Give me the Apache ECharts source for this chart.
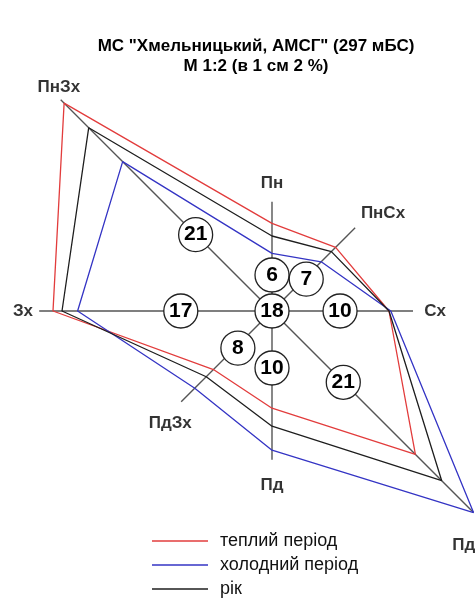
<!DOCTYPE html>
<html>
<head>
<meta charset="utf-8">
<script src="https://cdn.jsdelivr.net/npm/echarts@6/dist/echarts.min.js"></script>
<style>
html,body{margin:0;padding:0;background:#fff;}
#chart{width:475px;height:609px;}
</style>
</head>
<body>
<div id="chart"></div>
<script>
// ---- data ----
const directions = ['Пн', 'ПнСх', 'Сх', 'ПдСх', 'Пд', 'ПдЗх', 'Зх', 'ПнЗх'];
const directionAngles = [0, 45, 90, 135, 180, 225, 270, 315];
const warmPeriod = [7.3, 7.5, 9.75, 16.9, 8.1, 6.9, 18.25, 24.5];
const coldPeriod = [4.8, 5.8, 9.9, 23.75, 11.6, 9.1, 16.2, 17.6];
const yearValues = [6.25, 7.0, 9.75, 20.0, 9.6, 7.75, 17.5, 21.6];
const yearFrequency = [6, 7, 10, 21, 10, 8, 17, 21];
const calmFrequency = 18;
const seriesNames = ['теплий період', 'холодний період', 'рік'];
const titleLines = ['МС "Хмельницький, АМСГ" (297 мБС)', 'М 1:2 (в 1 см 2 %)'];

// ---- layout (in radius units / compass degrees) ----
const axisLength = [9.1, 9.8, 11.75, 23.75, 12.4, 10.7, 19.4, 24.9];
const labelPlace = [[10.67, 0], [12.33, 48.6], [13.6, 90], [25.8, 139.1], [14.5, 180], [12.6, 222.3], [20.75, 270], [25.75, 316.4]];
const badgePlace = [[3.0, 0], [3.9, 47], [5.67, 90], [8.4, 135], [4.75, 180], [4.2, 222.6], [7.6, 270], [9.0, 315]];
const colors = ['#e23c3c', '#3434c4', '#1e1e1e'];
const FONT = 'Arial, "Liberation Sans", sans-serif';

const chart = echarts.init(document.getElementById('chart'), null, {renderer: 'canvas'});

function polygon(vals) {
  const pts = vals.map((v, i) => [v, directionAngles[i]]);
  pts.push(pts[0]);
  return pts;
}

const series = [];
// axis lines
directionAngles.forEach((a, i) => {
  series.push({
    type: 'line', coordinateSystem: 'polar', clip: false, silent: true,
    symbol: 'none', z: 1,
    lineStyle: {color: '#555', width: 1.4},
    data: [[0, a], [axisLength[i], a]]
  });
});
// polygons
[warmPeriod, coldPeriod, yearValues].forEach((vals, k) => {
  series.push({
    name: seriesNames[k],
    type: 'line', coordinateSystem: 'polar', clip: false,
    symbol: 'none', z: 3,
    color: colors[k],
    lineStyle: {color: colors[k], width: 1.3},
    data: polygon(vals)
  });
});
// direction labels
series.push({
  type: 'scatter', coordinateSystem: 'polar', clip: false, silent: true,
  symbolSize: 0, z: 5,
  label: {
    show: true, position: 'inside',
    formatter: p => directions[p.dataIndex],
    color: '#000', fontSize: 17, fontWeight: 'bold', fontFamily: FONT
  },
  data: labelPlace.map(p => [p[0], p[1]])
});
// frequency badges
const badgeData = badgePlace.map((p, i) => ({value: [p[0], p[1]], f: yearFrequency[i]}));
badgeData.push({value: [0, 0], f: calmFrequency});
series.push({
  type: 'scatter', coordinateSystem: 'polar', clip: false, silent: true,
  symbol: 'circle', symbolSize: 34, z: 6,
  itemStyle: {color: '#fff', borderColor: '#222', borderWidth: 1.3, opacity: 1},
  label: {
    show: true, position: 'inside',
    formatter: p => String(p.data.f),
    color: '#000', fontSize: 21, fontWeight: 'bold', fontFamily: FONT
  },
  data: badgeData
});

chart.setOption({
  animation: false,
  backgroundColor: '#fff',
  polar: {center: [272, 311], radius: 360},
  angleAxis: {type: 'value', min: 0, max: 360, startAngle: 90, clockwise: true, show: false},
  radiusAxis: {type: 'value', min: 0, max: 30, show: false},
  legend: {
    data: seriesNames,
    orient: 'vertical',
    left: 147, top: 524,
    icon: 'rect',
    itemWidth: 56, itemHeight: 1.4, itemGap: 0,
    textStyle: {color: '#111', fontSize: 18, lineHeight: 17, fontFamily: FONT, padding: [0, 0, 7, 7]},
    selectedMode: false
  },
  graphic: titleLines.map((t, i) => ({
    type: 'text', x: 256, y: 46 + i * 20,
    style: {text: t, textAlign: 'center', textVerticalAlign: 'middle', fill: '#000',
      font: 'bold 17px Arial, "Liberation Sans", sans-serif'}
  })),
  series: series
});
</script>
</body>
</html>
